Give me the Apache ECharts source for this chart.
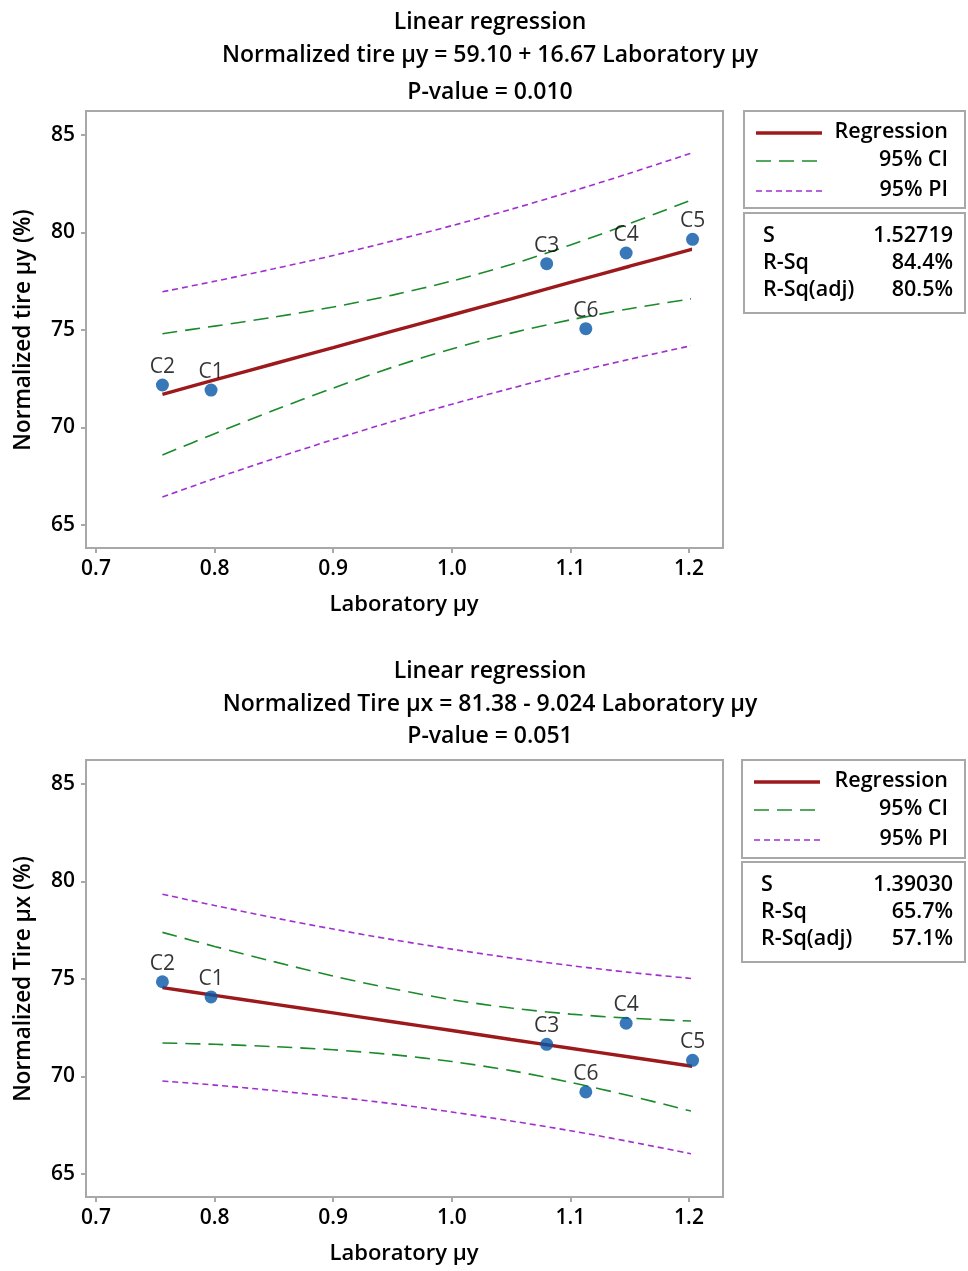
<!DOCTYPE html>
<html>
<head>
<meta charset="utf-8">
<script src="https://cdn.jsdelivr.net/npm/echarts@6/dist/echarts.min.js"></script>
<style>html,body{margin:0;padding:0;background:#fff}#c{width:968px;height:1271px}</style>
</head>
<body>
<div id="c"></div>
<script>
// ---------- data ----------
const pointNames = ['C1', 'C2', 'C3', 'C4', 'C5', 'C6'];
const labMuY = [0.797, 0.756, 1.080, 1.147, 1.203, 1.113];
const tireMuY = [71.92, 72.18, 78.40, 78.95, 79.65, 75.07];
const tireMuX = [74.08, 74.86, 71.65, 72.73, 70.83, 69.21];

const bandX = [0.756, 0.80, 0.85, 0.90, 0.95, 1.00, 1.05, 1.10, 1.15, 1.203];
const topFit  = [71.70, 72.44, 73.27, 74.10, 74.94, 75.77, 76.60, 77.44, 78.27, 79.15];
const topCiLo = [68.59, 69.68, 70.88, 72.02, 73.09, 74.03, 74.84, 75.52, 76.09, 76.61];
const topCiHi = [74.81, 75.20, 75.66, 76.18, 76.79, 77.51, 78.36, 79.36, 80.46, 81.69];
const topPiLo = [66.44, 67.38, 68.40, 69.38, 70.31, 71.19, 72.01, 72.79, 73.50, 74.21];
const topPiHi = [76.96, 77.50, 78.14, 78.82, 79.57, 80.35, 81.19, 82.09, 83.04, 84.09];

const botFit  = [74.56, 74.16, 73.71, 73.26, 72.81, 72.36, 71.90, 71.45, 71.00, 70.52];
const botCiLo = [71.72, 71.65, 71.53, 71.37, 71.12, 70.77, 70.30, 69.70, 69.01, 68.21];
const botCiHi = [77.39, 76.67, 75.89, 75.15, 74.50, 73.94, 73.51, 73.20, 72.99, 72.84];
const botPiLo = [69.77, 69.56, 69.28, 68.96, 68.60, 68.18, 67.72, 67.22, 66.66, 66.02];
const botPiHi = [79.35, 78.77, 78.14, 77.56, 77.02, 76.53, 76.08, 75.69, 75.34, 75.02];

const xTicks = [0.7, 0.8, 0.9, 1.0, 1.1, 1.2];
const yTicks = [65, 70, 75, 80, 85];

const topTitles = ['Linear regression', 'Normalized tire μy = 59.10 + 16.67 Laboratory μy', 'P-value = 0.010'];
const botTitles = ['Linear regression', 'Normalized Tire μx = 81.38 - 9.024 Laboratory μy', 'P-value = 0.051'];
const topYName = 'Normalized tire μy (%)';
const botYName = 'Normalized Tire μx (%)';
const xName = 'Laboratory μy';
const legendNames = ['Regression', '95% CI', '95% PI'];
const statNames = ['S', 'R-Sq', 'R-Sq(adj)'];
const topStats = ['1.52719', '84.4%', '80.5%'];
const botStats = ['1.39030', '65.7%', '57.1%'];

// ---------- styles ----------
const FONT = 'Open Sans';
const FW = 600;
const TXT = '#000';
const C_REG = '#9c1a1c', C_CI = '#1b8a2a', C_PI = '#a02fcf', C_PT = '#0656a6', C_FRAME = '#a8a8a8';
const DASH_CI = [15, 8], DASH_PI = [6, 4];

function zip(xs, ys) { return xs.map((x, i) => [x, ys[i]]); }

const panels = [
  {top: 135, frameTop: 111, titles: topTitles, titleTop: [6, 39, 76], yName: topYName,
   pts: tireMuY, fit: topFit, ciLo: topCiLo, ciHi: topCiHi, piLo: topPiLo, piHi: topPiHi,
   leg: {x: 744, y: 111, w: 221, h: 97}, st: {x: 744, y: 213, w: 221, h: 100}, stats: topStats},
  {top: 784, frameTop: 760, titles: botTitles, titleTop: [655, 688, 720], yName: botYName,
   pts: tireMuX, fit: botFit, ciLo: botCiLo, ciHi: botCiHi, piLo: botPiLo, piHi: botPiHi,
   leg: {x: 742, y: 760, w: 223, h: 98}, st: {x: 742, y: 862, w: 223, h: 100}, stats: botStats}
];

const GRID_LEFT = 96, GRID_W = 593, GRID_H = 390;

const option = {
  backgroundColor: '#fff',
  animation: false,
  title: [], grid: [], xAxis: [], yAxis: [], series: [], graphic: []
};

panels.forEach((p, k) => {
  p.titles.forEach((t, j) => {
    option.title.push({
      text: t, left: 485, top: p.titleTop[j], textAlign: 'center',
      textStyle: {fontFamily: FONT, fontSize: 23, fontWeight: FW, color: TXT}
    });
  });
  option.grid.push({left: GRID_LEFT, top: p.top, width: GRID_W, height: GRID_H});
  option.xAxis.push({
    type: 'value', gridIndex: k, min: 0.7, max: 1.2, interval: 0.1, offset: 23,
    name: xName, nameLocation: 'middle', nameGap: 46,
    nameTextStyle: {fontFamily: FONT, fontSize: 22, fontWeight: FW, color: TXT, padding: [0, 0, 0, 23]},
    axisLine: {show: false}, splitLine: {show: false},
    axisTick: {show: true, length: 5, lineStyle: {color: C_FRAME, width: 2}},
    axisLabel: {fontFamily: FONT, fontSize: 21, fontWeight: FW, color: TXT, margin: 11,
      formatter: v => v.toFixed(1)}
  });
  option.yAxis.push({
    type: 'value', gridIndex: k, min: 65, max: 85, interval: 5, offset: 10,
    name: p.yName, nameLocation: 'middle', nameGap: 51,
    nameTextStyle: {fontFamily: FONT, fontSize: 22.5, fontWeight: FW, color: TXT},
    axisLine: {show: false}, splitLine: {show: false},
    axisTick: {show: true, length: 5, lineStyle: {color: C_FRAME, width: 2}},
    axisLabel: {fontFamily: FONT, fontSize: 21, fontWeight: FW, color: TXT, margin: 11}
  });
  const lineBase = (data, color, width, dash) => ({
    type: 'line', xAxisIndex: k, yAxisIndex: k, data: zip(bandX, data),
    showSymbol: false, smooth: 0.3, clip: false, silent: true,
    lineStyle: {color: color, width: width, type: dash}
  });
  option.series.push(lineBase(p.piHi, C_PI, 1.6, DASH_PI));
  option.series.push(lineBase(p.piLo, C_PI, 1.6, DASH_PI));
  option.series.push(lineBase(p.ciHi, C_CI, 1.6, DASH_CI));
  option.series.push(lineBase(p.ciLo, C_CI, 1.6, DASH_CI));
  option.series.push(lineBase(p.fit, C_REG, 3.4, 'solid'));
  option.series.push({
    type: 'scatter', xAxisIndex: k, yAxisIndex: k, clip: false, z: 5,
    symbolSize: 13, itemStyle: {color: C_PT},
    data: labMuY.map((x, i) => ({name: pointNames[i], value: [x, p.pts[i]]})),
    label: {show: true, position: 'top', distance: 1, formatter: '{b}',
      fontFamily: FONT, fontSize: 21, fontWeight: 'normal', color: TXT}
  });

  // plot frame
  option.graphic.push({type: 'rect', z: 10, silent: true,
    shape: {x: 86, y: p.frameTop, width: 637, height: 437},
    style: {fill: 'none', stroke: C_FRAME, lineWidth: 2}});
  // legend box
  const L = p.leg;
  const font = FW + ' 21.5px "' + FONT + '"';
  option.graphic.push({type: 'rect', z: 10, silent: true,
    shape: {x: L.x, y: L.y, width: L.w, height: L.h},
    style: {fill: 'none', stroke: C_FRAME, lineWidth: 2}});
  const legCol = [C_REG, C_CI, C_PI], legW = [3.4, 1.6, 1.6], legDash = [null, DASH_CI, DASH_PI];
  const legDy = [22, 50, 80];
  legendNames.forEach((nm, j) => {
    option.graphic.push({type: 'line', z: 10, silent: true,
      shape: {x1: L.x + 12, y1: L.y + legDy[j], x2: L.x + 78, y2: L.y + legDy[j]},
      style: {stroke: legCol[j], lineWidth: legW[j], lineDash: legDash[j]}});
    option.graphic.push({type: 'text', z: 10, silent: true,
      style: {text: nm, x: L.x + L.w - 17, y: L.y + legDy[j] - 1, textAlign: 'right',
        textVerticalAlign: 'middle', font: font, fill: TXT}});
  });
  // stats box
  const S = p.st;
  option.graphic.push({type: 'rect', z: 10, silent: true,
    shape: {x: S.x, y: S.y, width: S.w, height: S.h},
    style: {fill: 'none', stroke: C_FRAME, lineWidth: 2}});
  const stDy = [23, 50, 77];
  statNames.forEach((nm, j) => {
    option.graphic.push({type: 'text', z: 10, silent: true,
      style: {text: nm, x: S.x + 19, y: S.y + stDy[j], textAlign: 'left',
        textVerticalAlign: 'middle', font: font, fill: TXT}});
    option.graphic.push({type: 'text', z: 10, silent: true,
      style: {text: p.stats[j], x: S.x + S.w - 12, y: S.y + stDy[j], textAlign: 'right',
        textVerticalAlign: 'middle', font: font, fill: TXT}});
  });
});

const chart = echarts.init(document.getElementById('c'), null, {renderer: 'canvas'});
chart.setOption(option);
</script>
</body>
</html>
